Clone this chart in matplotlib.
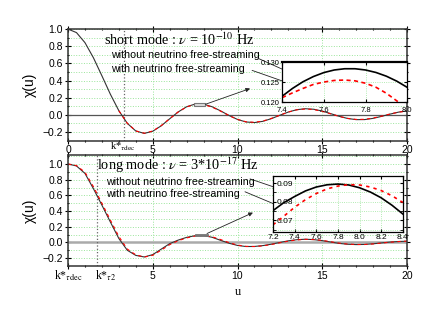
import matplotlib
matplotlib.use('Agg')
import matplotlib.pyplot as plt
from matplotlib.patches import Rectangle
from matplotlib.ticker import MultipleLocator

plt.rcParams['font.family'] = 'sans-serif'
plt.rcParams['font.sans-serif'] = ['Liberation Sans', 'DejaVu Sans']
plt.rcParams['font.serif'] = ['Liberation Serif', 'DejaVu Serif']
plt.rcParams['mathtext.fontset'] = 'stix'

# u grid of the main curves (step 0.5)
u = [i * 0.5 for i in range(41)]

# short mode, nu = 1e-10 Hz
short_free = [1.0, 0.9589, 0.8415, 0.6650, 0.4546, 0.2394, 0.0470, -0.1002, -0.1892, -0.2172,
              -0.1918, -0.1283, -0.0466, 0.0331, 0.0939, 0.1251, 0.1237, 0.0939, 0.0458, -0.0079,
              -0.0544, -0.0838, -0.0909, -0.0761, -0.0447, -0.0053, 0.0323, 0.0595, 0.0708, 0.0645,
              0.0434, 0.0133, -0.0180, -0.0431, -0.0566, -0.0560, -0.0417, -0.0183, 0.0079, 0.0311, 0.0456]
short_nu = [1.0, 0.9589, 0.8415, 0.6650, 0.4546, 0.2394, 0.0470, -0.1000, -0.1880, -0.2150,
            -0.1895, -0.1262, -0.0452, 0.0330, 0.0918, 0.1224, 0.1190, 0.0900, 0.0430, -0.0090,
            -0.0540, -0.0820, -0.0880, -0.0730, -0.0420, -0.0040, 0.0320, 0.0580, 0.0680, 0.0610,
            0.0400, 0.0110, -0.0190, -0.0420, -0.0540, -0.0530, -0.0380, -0.0160, 0.0090, 0.0310, 0.0430]

# long mode, nu = 3e-17 Hz
long_free = [1.0, 0.975, 0.88, 0.685, 0.475, 0.26, 0.05, -0.10, -0.165, -0.185,
             -0.155, -0.085, -0.015, 0.03, 0.065, 0.086, 0.0875, 0.066, 0.027, -0.010,
             -0.038, -0.052, -0.051, -0.040, -0.022, 0.0, 0.021, 0.035, 0.041, 0.036,
             0.023, 0.005, -0.012, -0.023, -0.027, -0.025, -0.017, -0.006, 0.005, 0.012, 0.016]
long_nu = [1.0, 0.98, 0.895, 0.71, 0.50, 0.285, 0.075, -0.085, -0.158, -0.186,
           -0.163, -0.098, -0.028, 0.022, 0.058, 0.082, 0.089, 0.072, 0.037, -0.002,
           -0.033, -0.050, -0.052, -0.043, -0.026, -0.004, 0.017, 0.032, 0.040, 0.037,
           0.026, 0.009, -0.009, -0.021, -0.026, -0.026, -0.019, -0.008, 0.003, 0.011, 0.017]

# zoomed insets
u_in1 = [7.40, 7.45, 7.50, 7.55, 7.60, 7.65, 7.70, 7.75, 7.80, 7.85, 7.90, 7.95, 8.00]
short_free_in = [0.12145, 0.12341, 0.12507, 0.12637, 0.12736, 0.12801, 0.12832, 0.12832, 0.12801,
                 0.12739, 0.12646, 0.12522, 0.12367]
short_nu_in = [0.1211, 0.1223, 0.1234, 0.1244, 0.1250, 0.1254, 0.1255, 0.1253, 0.1247,
               0.1237, 0.1222, 0.1203, 0.1185]
u_in2 = [7.2, 7.3, 7.4, 7.5, 7.6, 7.7, 7.8, 7.9, 8.0, 8.1, 8.2, 8.3, 8.4]
long_free_in = [0.0752, 0.0795, 0.0828, 0.0858, 0.0879, 0.0891, 0.0895, 0.0890, 0.0875, 0.0852,
                0.0821, 0.0781, 0.0734]
long_nu_in = [0.0676, 0.0722, 0.0770, 0.0811, 0.0844, 0.0869, 0.0884, 0.0892, 0.0890, 0.0879,
              0.0860, 0.0832, 0.0796]

k_tdec_short = 3.3
k_t2_long = 1.72

grid_c = '#9be59b'
spine_c = '#333333'

fig = plt.figure(figsize=(4.36, 3.23), dpi=100)
ax1 = fig.add_axes([0.156, 0.565, 0.7775, 0.345])
ax2 = fig.add_axes([0.156, 0.1765, 0.7775, 0.3425])


def style_main(ax):
    ax.set_xlim(0, 20)
    ax.xaxis.set_major_locator(MultipleLocator(5))
    ax.xaxis.set_minor_locator(MultipleLocator(1))
    ax.yaxis.set_major_locator(MultipleLocator(0.2))
    ax.yaxis.set_minor_locator(MultipleLocator(0.1))
    ax.yaxis.grid(True, which='both', color=grid_c, linestyle=':', linewidth=0.7)
    ax.xaxis.grid(True, which='major', color=grid_c, linestyle=':', linewidth=0.7)
    ax.set_axisbelow(True)
    ax.tick_params(which='both', direction='inout', top=True, right=True, labelsize=7.5,
                   pad=1.5, width=0.8)
    ax.tick_params(which='major', length=4)
    ax.tick_params(which='minor', length=2)
    for s in ax.spines.values():
        s.set_color(spine_c)
        s.set_linewidth(1.1)
    ax.set_ylabel(u'\u03c7(u)', fontsize=10, labelpad=4)


style_main(ax1)
ax1.set_ylim(-0.3, 1.0)
ax1.axhline(0, color='#555555', linewidth=0.9, zorder=1)
ax1.axvline(k_tdec_short, color='#666666', linestyle=':', linewidth=0.9)
ax1.plot(u, short_free, color='#333333', linewidth=0.8)
# the damped curve only separates after decoupling
ax1.plot(u[6:], short_nu[6:], color='red', linestyle=(0, (3, 3)), linewidth=0.8)
ax1.text(2.12, 0.81, r'short mode : $\nu$ = 10$^{-10}$ Hz', family='serif', fontsize=10.3, va='baseline')
ax1.text(2.54, 0.694, 'without neutrino free-streaming', fontsize=7.7, va='center')
ax1.text(2.54, 0.53, 'with neutrino free-streaming', fontsize=7.7, va='center')
ax1.text(k_tdec_short - 0.1, -0.305, r'k*$_{\tau\mathrm{dec}}$', family='serif', fontsize=7.5,
         ha='center', va='top')
ax1.add_patch(Rectangle((7.45, 0.105), 0.65, 0.035, facecolor='#dddddd', edgecolor='#777777',
                        linewidth=0.8, zorder=3))
arr = dict(arrowstyle='-|>', color='#222222', lw=0.6, mutation_scale=6, shrinkA=0, shrinkB=0)
ax1.annotate('', xy=(13.86, 0.424), xytext=(11.21, 0.659), arrowprops=arr)
ax1.annotate('', xy=(13.57, 0.33), xytext=(10.86, 0.518), arrowprops=arr)
ax1.annotate('', xy=(10.74, 0.306), xytext=(8.1, 0.122), arrowprops=arr)

style_main(ax2)
ax2.set_ylim(-0.3, 1.11)
ax2.axhline(0, color='#aaaaaa', linewidth=1.8, zorder=1)
ax2.axvline(k_t2_long, color='#666666', linestyle=':', linewidth=0.9)
ax2.plot(u, long_free, color='#333333', linewidth=0.8)
ax2.plot(u, long_nu, color='red', linestyle=(0, (3, 3)), linewidth=0.8)
ax2.set_xticks([0, 5, 10, 15, 20])
ax2.set_xticklabels(['', '5', '10', '15', '20'])
ax2.set_xlabel('u', family='serif', fontsize=9, labelpad=4)
ax2.text(1.71, 0.92, r'long mode : $\nu$ = 3*10$^{-17}$ Hz', family='serif', fontsize=10.3, va='baseline')
ax2.text(2.24, 0.77, 'without neutrino free-streaming', fontsize=7.7, va='center')
ax2.text(2.24, 0.62, 'with neutrino free-streaming', fontsize=7.7, va='center')
ax2.text(0.0, -0.335, r'k*$_{\tau\mathrm{dec}}$', family='serif', fontsize=8.5, ha='center', va='top')
ax2.text(k_t2_long - 0.1, -0.335, r'k*$_{\tau2}$', family='serif', fontsize=8.5, ha='left', va='top')
ax2.add_patch(Rectangle((7.5, 0.08), 0.75, 0.025, facecolor='#777777', edgecolor='#777777',
                        linewidth=0.6, zorder=3))
ax2.annotate('', xy=(13.33, 0.62), xytext=(10.74, 0.81), arrowprops=arr)
ax2.annotate('', xy=(13.1, 0.405), xytext=(10.44, 0.646), arrowprops=arr)
ax2.annotate('', xy=(10.91, 0.38), xytext=(8.2, 0.114), arrowprops=arr)

# inset, short mode
in1 = fig.add_axes([0.647, 0.684, 0.287, 0.124])
in1.plot(u_in1, short_free_in, color='black', linewidth=1.2)
in1.plot(u_in1, short_nu_in, color='red', linestyle=(0, (2.5, 2)), linewidth=1.2)
in1.set_xlim(7.4, 8.0)
in1.set_ylim(0.120, 0.130)
in1.set_xticks([7.4, 7.6, 7.8, 8.0])
in1.set_xticklabels(['7.4', '7.6', '7.8', '8.0'])
in1.set_yticks([0.120, 0.125, 0.130])
in1.set_yticklabels(['0.120', '0.125', '0.130'])
in1.grid(True, color=grid_c, linestyle=':', linewidth=0.6)
in1.tick_params(direction='in', labelsize=5.5, pad=1.5, length=2.5, top=True, right=True)
in1.tick_params(axis='x', pad=3.5)
for s in in1.spines.values():
    s.set_linewidth(0.9)
in1.spines['top'].set_linewidth(1.6)

# inset, long mode
in2 = fig.add_axes([0.626, 0.282, 0.298, 0.173])
in2.plot(u_in2, long_free_in, color='black', linewidth=1.2)
in2.plot(u_in2, long_nu_in, color='red', linestyle=(0, (2, 2.5)), linewidth=1.2)
in2.set_xlim(7.2, 8.4)
in2.set_ylim(0.0638, 0.0938)
in2.set_xticks([7.2, 7.4, 7.6, 7.8, 8.0, 8.2, 8.4])
in2.set_xticklabels(['7.2', '7.4', '7.6', '7.8', '8.0', '8.2', '8.4'])
in2.set_yticks([0.07, 0.08, 0.09])
in2.set_yticklabels(['0.07', '0.08', '0.09'])
in2.yaxis.set_minor_locator(MultipleLocator(0.005))
in2.grid(True, which='both', color=grid_c, linestyle=':', linewidth=0.6)
in2.tick_params(which='both', direction='in', labelsize=6, pad=1.5, length=2.5, top=True, right=True)
in2.tick_params(axis='y', pad=-3)
for lab in in2.get_yticklabels():
    lab.set_horizontalalignment('left')
for s in in2.spines.values():
    s.set_linewidth(0.9)

fig.savefig('out.png', dpi=100, facecolor='white')
